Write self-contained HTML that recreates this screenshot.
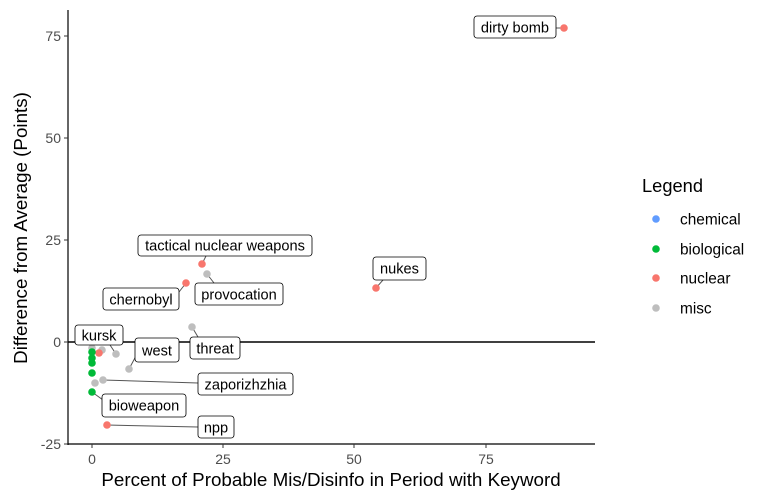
<!DOCTYPE html>
<html><head><meta charset="utf-8"><style>body{margin:0;background:#fff}svg{display:block}</style></head><body>
<svg width="782" height="500" viewBox="0 0 782 500" xmlns="http://www.w3.org/2000/svg" font-family="Liberation Sans, Arial, sans-serif">
<rect width="782" height="500" fill="#fff"/>
<line x1="68" y1="10" x2="68" y2="445" stroke="#000" stroke-width="1.2"/>
<line x1="67" y1="444" x2="595" y2="444" stroke="#000" stroke-width="1.2"/>
<line x1="68" y1="342" x2="595" y2="342" stroke="#000" stroke-width="1.5"/>
<g stroke="#333" stroke-width="1">
<line x1="64" y1="36" x2="68" y2="36"/><line x1="64" y1="138" x2="68" y2="138"/><line x1="64" y1="240" x2="68" y2="240"/><line x1="64" y1="342" x2="68" y2="342"/><line x1="64" y1="444" x2="68" y2="444"/>
<line x1="92" y1="444" x2="92" y2="448"/><line x1="223" y1="444" x2="223" y2="448"/><line x1="354" y1="444" x2="354" y2="448"/><line x1="486" y1="444" x2="486" y2="448"/>
</g>
<g font-size="14" fill="#4d4d4d" text-anchor="end">
<text x="61" y="41">75</text><text x="61" y="143">50</text><text x="61" y="245">25</text><text x="61" y="347">0</text><text x="61" y="449">-25</text>
</g>
<g font-size="14" fill="#4d4d4d" text-anchor="middle">
<text x="92" y="464">0</text><text x="223" y="464">25</text><text x="354" y="464">50</text><text x="486" y="464">75</text>
</g>
<text x="331" y="486" font-size="18.8" text-anchor="middle" fill="#000">Percent of Probable Mis/Disinfo in Period with Keyword</text>
<text transform="translate(27,228) rotate(-90)" font-size="18.8" text-anchor="middle" fill="#000">Difference from Average (Points)</text>
<g stroke="#555" stroke-width="1" fill="none">
<line x1="556" y1="28" x2="564" y2="28"/>
<line x1="376" y1="288" x2="383" y2="280"/>
<line x1="202" y1="264" x2="206" y2="256"/>
<line x1="207" y1="274" x2="214" y2="283"/>
<line x1="186" y1="283" x2="179" y2="292"/>
<line x1="192" y1="327" x2="198" y2="337"/>
<line x1="116" y1="354" x2="110" y2="345"/>
<line x1="129" y1="369" x2="136" y2="356"/>
<line x1="103" y1="380" x2="198" y2="383"/>
<line x1="92" y1="392" x2="103" y2="400"/>
<line x1="107" y1="425" x2="198" y2="427"/>
</g>
<g>
<circle cx="92" cy="348" r="3.8" fill="#bebebe"/>
<circle cx="102" cy="350" r="3.8" fill="#bebebe"/>
<circle cx="99" cy="353" r="3.8" fill="#F8766D"/>
<circle cx="116" cy="354" r="3.8" fill="#bebebe"/>
<circle cx="92" cy="352" r="3.8" fill="#00BA38"/>
<circle cx="92" cy="358" r="3.8" fill="#00BA38"/>
<circle cx="92" cy="363" r="3.8" fill="#00BA38"/>
<circle cx="92" cy="373" r="3.8" fill="#00BA38"/>
<circle cx="92" cy="392" r="3.8" fill="#00BA38"/>
<circle cx="95" cy="383" r="3.8" fill="#bebebe"/>
<circle cx="103" cy="380" r="3.8" fill="#bebebe"/>
<circle cx="129" cy="369" r="3.8" fill="#bebebe"/>
<circle cx="107" cy="425" r="3.8" fill="#F8766D"/>
<circle cx="192" cy="327" r="3.8" fill="#bebebe"/>
<circle cx="186" cy="283" r="3.8" fill="#F8766D"/>
<circle cx="207" cy="274" r="3.8" fill="#bebebe"/>
<circle cx="202" cy="264" r="3.8" fill="#F8766D"/>
<circle cx="376" cy="288" r="3.8" fill="#F8766D"/>
<circle cx="564" cy="28" r="3.8" fill="#F8766D"/>
</g>
<g fill="#fff" stroke="#000" stroke-width="0.8">
<rect x="474" y="16" width="82" height="22" rx="3"/>
<rect x="373" y="257" width="53" height="23" rx="3"/>
<rect x="138" y="235" width="174" height="21" rx="3"/>
<rect x="195" y="283" width="88" height="22" rx="3"/>
<rect x="103" y="288" width="76" height="22" rx="3"/>
<rect x="190" y="337" width="50" height="22" rx="3"/>
<rect x="75" y="325" width="48" height="20" rx="3"/>
<rect x="135" y="338" width="44" height="24" rx="3"/>
<rect x="198" y="373" width="95" height="22" rx="3"/>
<rect x="102" y="394" width="84" height="23" rx="3"/>
<rect x="198" y="416" width="36" height="22" rx="3"/>
</g>
<g font-size="14.6" fill="#000" text-anchor="middle">
<text x="515" y="32.5">dirty bomb</text>
<text x="399.5" y="273.5">nukes</text>
<text x="225" y="250.5">tactical nuclear weapons</text>
<text x="239" y="299.5">provocation</text>
<text x="141" y="304.5">chernobyl</text>
<text x="215" y="353.5">threat</text>
<text x="99" y="340.5">kursk</text>
<text x="157" y="355.5">west</text>
<text x="245.5" y="389.5">zaporizhzhia</text>
<text x="144" y="410.5">bioweapon</text>
<text x="216" y="432.5">npp</text>
</g>
<text x="642" y="192" font-size="18.3" fill="#000">Legend</text>
<circle cx="656" cy="219" r="3.8" fill="#619CFF"/>
<circle cx="656" cy="249" r="3.8" fill="#00BA38"/>
<circle cx="656" cy="278" r="3.8" fill="#F8766D"/>
<circle cx="656" cy="308" r="3.8" fill="#bebebe"/>
<g font-size="15.4" fill="#000">
<text x="680" y="224.5">chemical</text>
<text x="680" y="254.5">biological</text>
<text x="680" y="283.5">nuclear</text>
<text x="680" y="313.5">misc</text>
</g>
</svg>
</body></html>
